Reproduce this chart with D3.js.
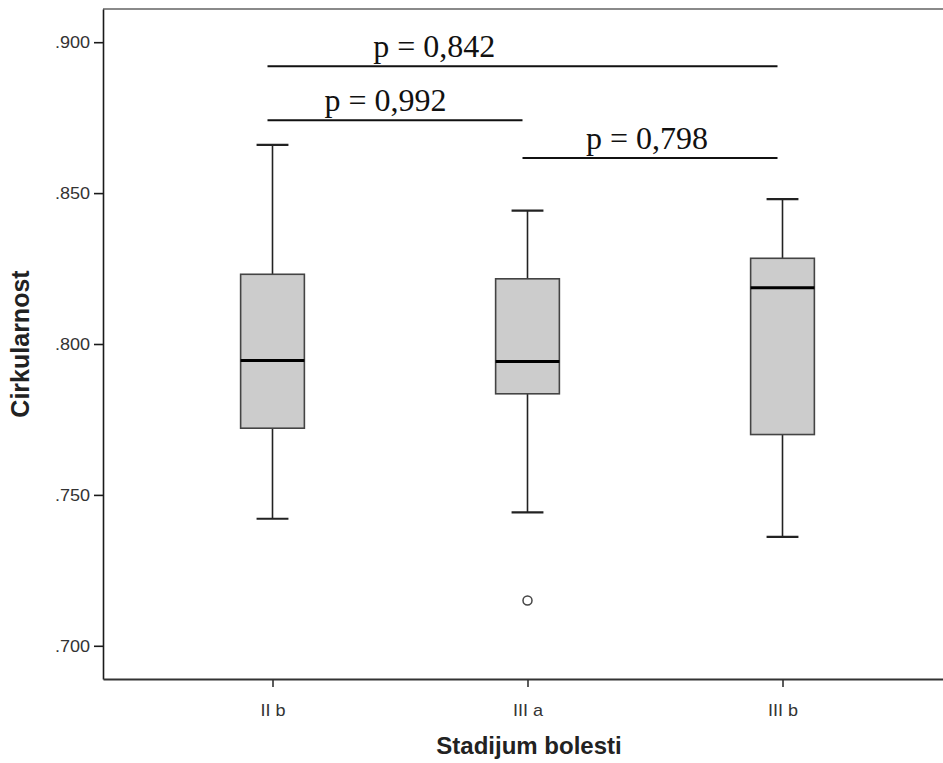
<!DOCTYPE html>
<html>
<head>
<meta charset="utf-8">
<script src="https://cdn.jsdelivr.net/npm/d3@7/dist/d3.min.js"></script>
<style>
  html, body { margin: 0; padding: 0; background: #ffffff; }
  svg { display: block; }
</style>
</head>
<body>
<svg id="chart" width="943" height="763"></svg>
<script>
// Disease stage groups on the x axis
const categories = ["II b", "III a", "III b"];

// Five-number summaries of circularity per stage
const whiskerLow  = [0.7421, 0.7442, 0.7361];
const quartile1   = [0.7721, 0.7835, 0.7700];
const medians     = [0.7945, 0.7942, 0.8186];
const quartile3   = [0.8231, 0.8216, 0.8284];
const whiskerHigh = [0.8660, 0.8442, 0.8480];

// Outlying observations
const outlierCats   = ["III a"];
const outlierValues = [0.7150];

// Y axis ticks
const yTicks = [0.700, 0.750, 0.800, 0.850, 0.900];

// Pairwise comparisons drawn as brackets above the boxes
const compFrom   = ["II b", "II b", "III a"];
const compTo     = ["III b", "III a", "III b"];
const compLevel  = [0.8920, 0.8741, 0.8616];
const compLabels = ["p = 0,842", "p = 0,992", "p = 0,798"];

// ---- layout ----
const W = 943, H = 763;
const plot = { left: 103, top: 9, right: 952, bottom: 679 };
const labelAlong = [0.327, 0.463, 0.488];   // where each p label sits along its bracket
const labelRaise = 9;                       // gap between bracket and label baseline
const glyphStretch = 1.06;                  // slight horizontal widening of the sans tick labels

const svg = d3.select("#chart");

const y = d3.scaleLinear()
  .domain([0.689, 0.911])
  .range([plot.bottom, plot.top]);

const x = d3.scalePoint()
  .domain(categories)
  .range([plot.left, plot.right])
  .padding(0.6647);

const boxW = x.step() * 0.25;
const capW = boxW / 2;

const sans = "Arial, 'Liberation Sans', Helvetica, sans-serif";
const serif = "'Times New Roman', 'Liberation Serif', Times, serif";

function stretch(sel) {
  sel.each(function () {
    const len = this.getComputedTextLength();
    d3.select(this)
      .attr("textLength", len * glyphStretch)
      .attr("lengthAdjust", "spacingAndGlyphs");
  });
}

// top frame edge
svg.append("line")
  .attr("x1", plot.left).attr("x2", plot.right)
  .attr("y1", plot.top).attr("y2", plot.top)
  .attr("stroke", "#8a8a8a").attr("stroke-width", 2);

// y axis
const yAxis = svg.append("g")
  .attr("transform", `translate(${plot.left},0)`)
  .call(d3.axisLeft(y)
    .tickValues(yTicks)
    .tickFormat(d => d3.format(".3f")(d).replace(/^0/, ""))
    .tickSize(9)
    .tickSizeOuter(0)
    .tickPadding(4));
yAxis.select(".domain").attr("stroke", "#1a1a1a").attr("stroke-width", 1.6);
yAxis.selectAll(".tick line").attr("stroke", "#1a1a1a").attr("stroke-width", 1.6);
yAxis.selectAll(".tick text")
  .attr("font-family", sans).attr("font-size", 17).attr("fill", "#333");
stretch(yAxis.selectAll(".tick text"));

// x axis
const xAxis = svg.append("g")
  .attr("transform", `translate(0,${plot.bottom})`)
  .call(d3.axisBottom(x)
    .tickSize(8)
    .tickSizeOuter(0)
    .tickPadding(17));
xAxis.select(".domain").attr("stroke", "#333").attr("stroke-width", 2);
xAxis.selectAll(".tick line").attr("stroke", "#333").attr("stroke-width", 1.6);
xAxis.selectAll(".tick text")
  .attr("font-family", sans).attr("font-size", 17).attr("fill", "#333");
stretch(xAxis.selectAll(".tick text"));

// axis titles
svg.append("text")
  .attr("transform", `translate(29,${(plot.top + plot.bottom) / 2}) rotate(-90)`)
  .attr("text-anchor", "middle")
  .attr("font-family", sans).attr("font-weight", "bold").attr("font-size", 25)
  .attr("fill", "#222")
  .text("Cirkularnost");

svg.append("text")
  .attr("x", 529).attr("y", 754)
  .attr("text-anchor", "middle")
  .attr("font-family", sans).attr("font-weight", "bold").attr("font-size", 24)
  .attr("fill", "#222")
  .text("Stadijum bolesti");

// boxes
const boxes = categories.map((c, i) => ({
  cat: c, lo: whiskerLow[i], q1: quartile1[i], med: medians[i],
  q3: quartile3[i], hi: whiskerHigh[i]
}));

const g = svg.append("g");
const bx = g.selectAll("g.box").data(boxes).join("g").attr("class", "box");

// whisker stems
bx.append("line")
  .attr("x1", d => x(d.cat)).attr("x2", d => x(d.cat))
  .attr("y1", d => y(d.q3)).attr("y2", d => y(d.hi))
  .attr("stroke", "#222").attr("stroke-width", 1.6);
bx.append("line")
  .attr("x1", d => x(d.cat)).attr("x2", d => x(d.cat))
  .attr("y1", d => y(d.q1)).attr("y2", d => y(d.lo))
  .attr("stroke", "#222").attr("stroke-width", 1.6);

// whisker caps
bx.append("line")
  .attr("x1", d => x(d.cat) - capW / 2).attr("x2", d => x(d.cat) + capW / 2)
  .attr("y1", d => y(d.hi)).attr("y2", d => y(d.hi))
  .attr("stroke", "#222").attr("stroke-width", 2.2);
bx.append("line")
  .attr("x1", d => x(d.cat) - capW / 2).attr("x2", d => x(d.cat) + capW / 2)
  .attr("y1", d => y(d.lo)).attr("y2", d => y(d.lo))
  .attr("stroke", "#222").attr("stroke-width", 2.2);

// interquartile box
bx.append("rect")
  .attr("x", d => x(d.cat) - boxW / 2)
  .attr("width", boxW)
  .attr("y", d => y(d.q3))
  .attr("height", d => y(d.q1) - y(d.q3))
  .attr("fill", "#cccccc")
  .attr("stroke", "#444").attr("stroke-width", 1.6);

// median
bx.append("line")
  .attr("x1", d => x(d.cat) - boxW / 2).attr("x2", d => x(d.cat) + boxW / 2)
  .attr("y1", d => y(d.med)).attr("y2", d => y(d.med))
  .attr("stroke", "#000").attr("stroke-width", 3);

// outliers
g.selectAll("circle.outlier")
  .data(outlierCats.map((c, i) => ({ cat: c, v: outlierValues[i] })))
  .join("circle")
  .attr("class", "outlier")
  .attr("cx", d => x(d.cat)).attr("cy", d => y(d.v))
  .attr("r", 4.5)
  .attr("fill", "#fff").attr("stroke", "#444").attr("stroke-width", 1.5);

// comparison brackets
const comps = compLabels.map((l, i) => ({
  a: x(compFrom[i]) - 5, b: x(compTo[i]) - 5, lvl: compLevel[i], label: l, t: labelAlong[i]
}));
const cg = svg.append("g");
cg.selectAll("line").data(comps).join("line")
  .attr("x1", d => d.a).attr("x2", d => d.b)
  .attr("y1", d => y(d.lvl)).attr("y2", d => y(d.lvl))
  .attr("stroke", "#111").attr("stroke-width", 2);
cg.selectAll("text").data(comps).join("text")
  .attr("x", d => d.a + (d.b - d.a) * d.t)
  .attr("y", d => y(d.lvl) - labelRaise)
  .attr("text-anchor", "middle")
  .attr("font-family", serif).attr("font-size", 32).attr("fill", "#111")
  .text(d => d.label);
</script>
</body>
</html>
